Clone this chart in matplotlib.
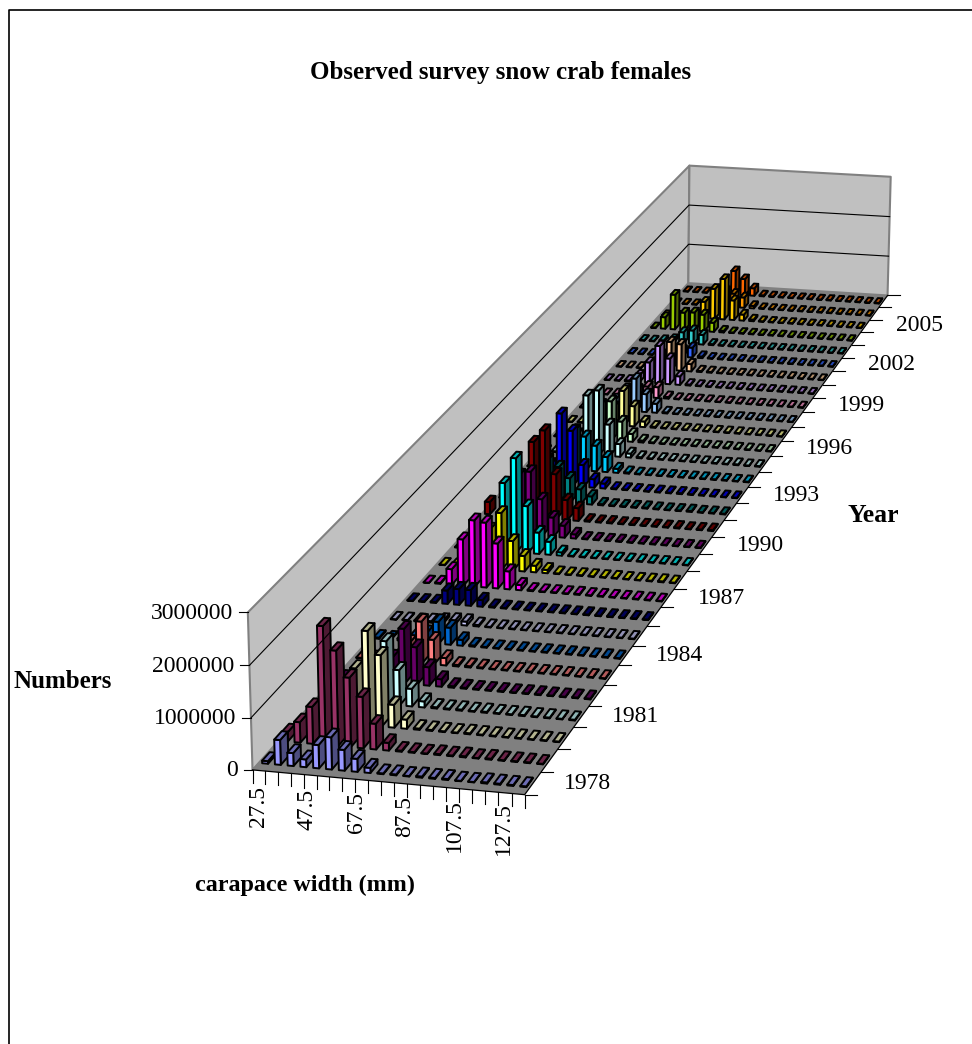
# Observed survey snow crab females - Excel style 3D column chart
import numpy as np
import matplotlib
matplotlib.use("Agg")
import matplotlib.pyplot as plt
from matplotlib.collections import PolyCollection

plt.rcParams['font.family'] = ['Liberation Serif', 'DejaVu Serif']

# --- Data (numbers in thousands, one list per survey year) ---
widths = [27.5, 32.5, 37.5, 42.5, 47.5, 52.5, 57.5, 62.5, 67.5, 72.5, 77.5,
          82.5, 87.5, 92.5, 97.5, 102.5, 107.5, 112.5, 117.5, 122.5, 127.5]
years = list(range(1978, 2008))

n1978 = [50, 480, 250, 150, 450, 620, 400, 250, 100, 15, 18, 10, 22, 18, 20, 8, 8, 22, 20, 18, 15]
n1979 = [180, 400, 720, 2300, 1850, 1350, 1000, 500, 150, 20, 15, 10, 20, 15, 22, 10, 20, 12, 15, 15, 10]
n1980 = [20, 100, 300, 500, 1100, 1850, 1400, 450, 180, 25, 20, 15, 12, 20, 15, 15, 12, 15, 12, 15, 12]
n1981 = [10, 50, 100, 300, 800, 1250, 700, 350, 120, 25, 20, 22, 15, 20, 15, 15, 20, 15, 15, 12, 15]
n1982 = [5, 20, 60, 150, 500, 1100, 750, 370, 150, 30, 20, 15, 15, 15, 12, 15, 15, 12, 12, 15, 15]
n1983 = [10, 20, 40, 100, 400, 850, 500, 150, 30, 25, 20, 12, 15, 15, 20, 15, 15, 15, 12, 15, 12]
n1984 = [25, 25, 40, 100, 200, 450, 350, 120, 25, 15, 12, 12, 15, 12, 15, 12, 15, 12, 12, 15, 12]
n1985 = [10, 15, 15, 30, 60, 80, 80, 30, 12, 12, 15, 12, 12, 12, 15, 12, 12, 15, 12, 12, 12]
n1986 = [10, 15, 20, 280, 330, 330, 140, 20, 15, 15, 12, 12, 12, 15, 12, 15, 12, 12, 12, 15, 12]
n1987 = [5, 20, 330, 980, 1400, 1370, 950, 380, 110, 20, 12, 15, 12, 20, 12, 15, 12, 12, 15, 15, 12]
n1988 = [8, 15, 90, 460, 840, 1210, 630, 330, 140, 70, 15, 12, 15, 12, 12, 15, 12, 12, 15, 20, 12]
n1989 = [10, 30, 60, 320, 1470, 2020, 1010, 460, 280, 70, 15, 15, 12, 15, 12, 12, 15, 12, 15, 12, 12]
n1990 = [8, 30, 100, 370, 1290, 1380, 800, 420, 260, 90, 15, 15, 12, 15, 12, 12, 15, 12, 12, 12, 12]
n1991 = [270, 50, 140, 460, 1660, 1930, 990, 440, 280, 25, 15, 20, 12, 15, 12, 15, 12, 20, 12, 15, 20]
n1992 = [10, 30, 90, 550, 920, 780, 550, 320, 180, 25, 15, 15, 15, 20, 15, 12, 15, 20, 12, 15, 15]
n1993 = [10, 30, 90, 460, 1610, 1240, 490, 190, 110, 20, 15, 15, 12, 15, 15, 20, 15, 15, 12, 12, 12]
n1994 = [10, 20, 70, 360, 900, 770, 580, 340, 90, 25, 15, 15, 12, 15, 12, 15, 15, 15, 15, 12, 15]
n1995 = [10, 20, 70, 450, 1350, 1480, 720, 290, 90, 25, 15, 15, 15, 15, 15, 12, 15, 15, 20, 12, 15]
n1996 = [10, 20, 50, 270, 810, 900, 450, 180, 45, 20, 15, 15, 15, 15, 12, 15, 20, 15, 15, 12, 15]
n1997 = [12, 15, 40, 170, 420, 810, 470, 130, 25, 15, 15, 15, 15, 12, 15, 15, 15, 12, 15, 15, 12]
n1998 = [12, 15, 35, 250, 510, 770, 420, 210, 25, 15, 15, 12, 15, 15, 12, 15, 15, 15, 15, 12, 12]
n1999 = [12, 15, 25, 85, 170, 255, 255, 40, 15, 15, 15, 15, 12, 15, 15, 12, 15, 15, 12, 15, 15]
n2000 = [12, 15, 25, 165, 490, 900, 615, 205, 25, 15, 15, 12, 15, 15, 15, 12, 15, 15, 15, 15, 12]
n2001 = [12, 15, 15, 65, 320, 680, 640, 175, 25, 20, 15, 12, 15, 15, 12, 15, 15, 15, 12, 15, 12]
n2002 = [12, 15, 15, 25, 65, 160, 240, 40, 15, 15, 15, 15, 12, 15, 15, 15, 15, 12, 15, 15, 12]
n2003 = [15, 15, 40, 80, 270, 330, 235, 25, 15, 15, 12, 15, 15, 12, 15, 15, 12, 15, 15, 12, 15]
n2004 = [15, 285, 860, 430, 450, 410, 225, 40, 15, 15, 15, 12, 15, 15, 12, 15, 15, 12, 15, 15, 12]
n2005 = [12, 15, 25, 75, 410, 750, 1010, 490, 150, 40, 15, 15, 12, 15, 15, 12, 15, 15, 12, 15, 12]
n2006 = [12, 15, 15, 40, 225, 375, 340, 260, 60, 20, 15, 15, 12, 15, 12, 15, 15, 12, 15, 15, 12]
n2007 = [12, 15, 15, 25, 75, 600, 410, 190, 25, 15, 15, 12, 15, 15, 12, 15, 12, 15, 15, 12, 15]

# Excel's default series palette
series_colors = ['#9999FF', '#993366', '#FFFFCC', '#CCFFFF', '#660066', '#FF8080',
                 '#0066CC', '#CCCCFF', '#000080', '#FF00FF', '#FFFF00', '#00FFFF',
                 '#800080', '#800000', '#008080', '#0000FF', '#00CCFF', '#CCFFFF',
                 '#CCFFCC', '#FFFF99', '#99CCFF', '#FF99CC', '#CC99FF', '#FFCC99',
                 '#3366FF', '#33CCCC', '#99CC00', '#FFCC00', '#FF9900', '#FF6600']

numbers = np.array([n1978, n1979, n1980, n1981, n1982, n1983, n1984, n1985, n1986, n1987,
                    n1988, n1989, n1990, n1991, n1992, n1993, n1994, n1995, n1996, n1997,
                    n1998, n1999, n2000, n2001, n2002, n2003, n2004, n2005, n2006, n2007]) / 1000.0

n_w, n_y, z_max = len(widths), len(years), 3.0

# --- Camera: fit a projective matrix to the corners of the plot box ---
anchors = [((0, 0, 0), (252, 769)), ((n_w, 0, 0), (525, 795)),
           ((n_w, n_y, 0), (888, 295)), ((0, n_y, 0), (688, 284)),
           ((0, 0, z_max), (248, 613)), ((0, n_y, z_max), (690, 165)),
           ((n_w, n_y, z_max), (890, 177))]
A, b = [], []
for (X, Y, Z), (u, v) in anchors:
    A.append([X, Y, Z, 1, 0, 0, 0, 0, -u * X, -u * Y, -u * Z])
    A.append([0, 0, 0, 0, X, Y, Z, 1, -v * X, -v * Y, -v * Z])
    b += [u, v]
cam = np.linalg.lstsq(np.array(A, float), np.array(b, float), rcond=None)[0]
cam = np.append(cam, 1.0).reshape(3, 4)


def proj(x, y, z):
    p = cam @ np.array([x, y, z, 1.0])
    return p[0] / p[2], p[1] / p[2]


def shade(color, k):
    return tuple(k * c for c in matplotlib.colors.to_rgb(color))


fig = plt.figure(figsize=(9.72, 10.44), dpi=100)
ax = fig.add_axes([0, 0, 1, 1])
ax.set_xlim(0, 972)
ax.set_ylim(1044, 0)
ax.axis('off')

# Outer chart border (only top and left fall inside the picture)
ax.plot([8.5, 8.5, 972], [1044, 9.5, 9.5], color='black', lw=1.2)

# --- Walls and floor ---
left_wall = [proj(0, 0, 0), proj(0, n_y, 0), proj(0, n_y, z_max), proj(0, 0, z_max)]
back_wall = [proj(0, n_y, 0), proj(n_w, n_y, 0), proj(n_w, n_y, z_max), proj(0, n_y, z_max)]
floor = [proj(0, 0, 0), proj(n_w, 0, 0), proj(n_w, n_y, 0), proj(0, n_y, 0)]
ax.add_collection(PolyCollection([left_wall, back_wall], facecolors='#C0C0C0',
                                 edgecolors='#808080', linewidths=1.5))
ax.add_collection(PolyCollection([floor], facecolors='#808080', edgecolors='none'))

# Gridlines at each million on the walls
for z in [1.0, 2.0]:
    pts = [proj(0, 0, z), proj(0, n_y, z), proj(n_w, n_y, z)]
    ax.plot(*zip(*pts), color='black', lw=0.8)

# Floor edges and ticks
ax.plot(*zip(proj(0, 0, 0), proj(n_w, 0, 0), proj(n_w, n_y, 0)), color='black', lw=0.9)
for c in range(n_w + 1):
    x0, y0 = proj(c, 0, 0)
    ax.plot([x0, x0], [y0, y0 + 13], color='black', lw=0.8)
for r in range(n_y + 1):
    x0, y0 = proj(n_w, r, 0)
    ax.plot([x0, x0 + 12], [y0, y0], color='black', lw=0.8)
for z in [0, 1, 2, 3]:
    x0, y0 = proj(0, 0, z)
    ax.plot([x0 - 9, x0], [y0, y0], color='black', lw=0.8)
    ax.text(x0 - 15, y0 + 1, str(z * 1000000), ha='right', va='center', fontsize=17)

# --- Bars, back row first so the nearer ones paint over ---
bar_x, bar_y = 0.46, 0.38
polys, faces = [], []
for r in range(n_y - 1, -1, -1):
    col = series_colors[r]
    for c in range(n_w):
        x0, x1 = c + 0.5 - bar_x / 2, c + 0.5 + bar_x / 2
        y0, y1 = r + 0.5 - bar_y / 2, r + 0.5 + bar_y / 2
        h = numbers[r, c]
        polys.append([proj(x1, y0, 0), proj(x1, y1, 0), proj(x1, y1, h), proj(x1, y0, h)])
        faces.append(shade(col, 0.5))
        polys.append([proj(x0, y0, 0), proj(x1, y0, 0), proj(x1, y0, h), proj(x0, y0, h)])
        faces.append(shade(col, 1.0))
        polys.append([proj(x0, y0, h), proj(x1, y0, h), proj(x1, y1, h), proj(x0, y1, h)])
        faces.append(shade(col, 0.7))
ax.add_collection(PolyCollection(polys, facecolors=faces, edgecolors='black',
                                 linewidths=1.4, joinstyle='round'))

# --- Category labels ---
for c in range(0, n_w, 4):
    ax.text(258 + 12.25 * c, 786 + 0.8 * c, str(widths[c]), rotation=90,
            ha='center', va='top', fontsize=17)
for r in range(0, n_y, 3):
    x0, y0 = proj(n_w, r + 0.5, 0)
    ax.text(x0 + 54, y0 + 0, str(years[r]), ha='center', va='center', fontsize=17)

# --- Titles ---
ax.text(501, 72, 'Observed survey snow crab females', ha='center', va='center',
        fontsize=18, fontweight='bold')
ax.text(63, 682, 'Numbers', ha='center', va='center', fontsize=18, fontweight='bold')
ax.text(873, 515, 'Year', ha='center', va='center', fontsize=18.5, fontweight='bold')
ax.text(305, 885, 'carapace width (mm)', ha='center', va='center', fontsize=17.4, fontweight='bold')

fig.savefig('out.png', dpi=100)
